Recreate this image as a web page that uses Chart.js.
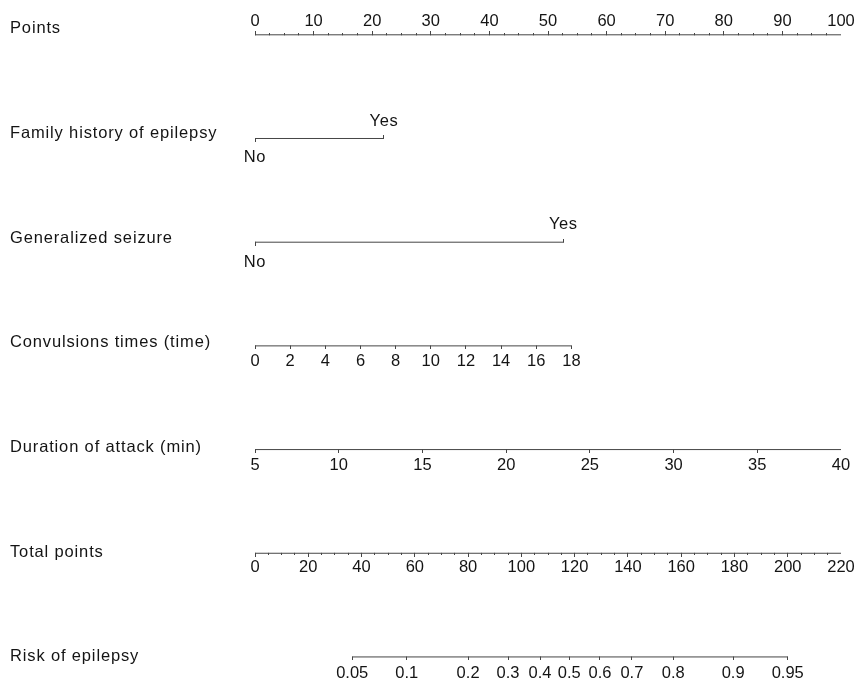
<!DOCTYPE html>
<html>
<head>
<meta charset="utf-8">
<script src="https://cdn.jsdelivr.net/npm/chart.js@4.4.1/dist/chart.umd.min.js"></script>
<style>
  html, body { margin: 0; padding: 0; background: #fff; }
  #wrap { width: 858px; height: 685px; }
</style>
</head>
<body>
<div id="wrap"><canvas id="nomo" width="858" height="685"></canvas></div>
<script>
// row titles, top to bottom
const rowTitles = [
  "Points",
  "Family history of epilepsy",
  "Generalized seizure",
  "Convulsions times (time)",
  "Duration of attack (min)",
  "Total points",
  "Risk of epilepsy"
];

// points axis
const pointTicks = [0, 10, 20, 30, 40, 50, 60, 70, 80, 90, 100];
const pointMinorStep = 2.5;

// categorical predictors: levels and the points they score
const familyLevels = ["No", "Yes"];
const familyPoints = [0, 22];
const seizureLevels = ["No", "Yes"];
const seizurePoints = [0, 52.6];

// continuous predictors: tick values and points at the two ends of the range
const convTicks = [0, 2, 4, 6, 8, 10, 12, 14, 16, 18];
const convRangePoints = [0, 54];
const durationTicks = [5, 10, 15, 20, 25, 30, 35, 40];
const durationRangePoints = [0, 100];

// total points axis (0-220 across the full points width)
const totalTicks = [0, 20, 40, 60, 80, 100, 120, 140, 160, 180, 200, 220];
const totalMinorStep = 5;
const totalMax = 220;

// risk axis: probability labels and the total points they sit at
const riskTicks = [0.05, 0.1, 0.2, 0.3, 0.4, 0.5, 0.6, 0.7, 0.8, 0.9, 0.95];
const riskTotals = [36.5, 57, 80, 95, 107, 118, 129.5, 141.5, 157, 179.5, 200];

// look
const LINE_COLOR = "#454545";
const TEXT_COLOR = "#141414";
const FONT = '16.5px "Liberation Sans", Arial, Helvetica, sans-serif';
const ROW_GAP = 104.3;
const FIRST_ROW = 33;
const Y_MIN = -FIRST_ROW / ROW_GAP;
const Y_MAX = Y_MIN + 685 / ROW_GAP;

function lin(v, v0, v1, p0, p1) {
  return p0 + (v - v0) * (p1 - p0) / (v1 - v0);
}

function tickImg(len, up) {
  const c = document.createElement("canvas");
  c.width = 1;
  c.height = len * 2 + 1;
  const g = c.getContext("2d");
  g.fillStyle = LINE_COLOR;
  if (up) g.fillRect(0, 0, 1, len + 1);
  else g.fillRect(0, len, 1, len + 1);
  return c;
}
const majorUp = tickImg(3, true);
const minorUp = tickImg(1, true);
const majorDown = tickImg(3, false);
const minorDown = tickImg(1, false);

function withMinor(ticks, step, toPts, up, labelDy) {
  const out = [];
  const lo = ticks[0], hi = ticks[ticks.length - 1];
  for (let v = lo; v <= hi + 1e-9; v += step) {
    const isMajor = ticks.some(t => Math.abs(t - v) < 1e-9);
    out.push({
      x: toPts(v),
      label: isMajor ? String(v) : null,
      img: isMajor ? (up ? majorUp : majorDown) : (up ? minorUp : minorDown),
      dy: labelDy
    });
  }
  return out;
}

const rows = [
  withMinor(pointTicks, pointMinorStep, v => v, true, -9),
  familyLevels.map((lv, i) => ({
    x: familyPoints[i], label: lv,
    img: i === 0 ? majorDown : majorUp, dy: i === 0 ? 24 : -12
  })),
  seizureLevels.map((lv, i) => ({
    x: seizurePoints[i], label: lv,
    img: i === 0 ? majorDown : majorUp, dy: i === 0 ? 25 : -13
  })),
  convTicks.map(v => ({
    x: lin(v, convTicks[0], convTicks[convTicks.length - 1], convRangePoints[0], convRangePoints[1]),
    label: String(v), img: majorDown, dy: 20
  })),
  durationTicks.map(v => ({
    x: lin(v, durationTicks[0], durationTicks[durationTicks.length - 1], durationRangePoints[0], durationRangePoints[1]),
    label: String(v), img: majorDown, dy: 20
  })),
  withMinor(totalTicks, totalMinorStep, v => v * 100 / totalMax, false, 19),
  riskTicks.map((p, i) => ({
    x: riskTotals[i] * 100 / totalMax,
    label: String(p), img: majorDown, dy: 21
  }))
];

const datasets = rows.map((ticks, i) => ({
  data: ticks.map(t => ({ x: t.x, y: i, img: t.img })),
  borderColor: LINE_COLOR,
  borderWidth: 1,
  pointStyle: ctx => ctx.raw.img,
  pointRadius: 1,
  pointHoverRadius: 1,
  fill: false,
  tension: 0
}));

const textPlugin = {
  id: "nomoText",
  afterDatasetsDraw(chart) {
    const { ctx, scales: { x, y } } = chart;
    ctx.save();
    ctx.fillStyle = TEXT_COLOR;
    ctx.font = FONT;
    ctx.textBaseline = "alphabetic";
    rows.forEach((ticks, i) => {
      const py = y.getPixelForValue(i);
      ctx.letterSpacing = "0.85px";
      ctx.textAlign = "left";
      ctx.fillText(rowTitles[i], 10, py - 1.5 + i);
      ctx.letterSpacing = (i === 1 || i === 2) ? "0.6px" : "0px";
      ctx.textAlign = "center";
      ticks.forEach(t => {
        if (t.label == null) return;
        ctx.fillText(t.label, x.getPixelForValue(t.x), py + t.dy);
      });
    });
    ctx.restore();
  }
};

new Chart(document.getElementById("nomo"), {
  type: "line",
  data: { datasets },
  options: {
    responsive: false,
    animation: false,
    events: [],
    layout: { padding: { left: 255, right: 17, top: 0, bottom: 0 } },
    scales: {
      x: { type: "linear", min: 0, max: 100, display: false },
      y: { type: "linear", min: Y_MIN, max: Y_MAX, reverse: true, display: false }
    },
    plugins: { legend: { display: false }, tooltip: { enabled: false } }
  },
  plugins: [textPlugin]
});
</script>
</body>
</html>
